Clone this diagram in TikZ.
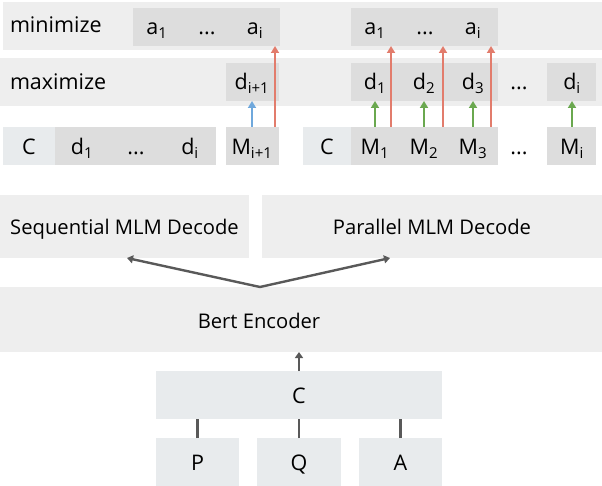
\documentclass[tikz,border=0pt]{standalone}
\usepackage{fontspec}
\setmainfont{Open Sans}
\usetikzlibrary{arrows.meta}
\definecolor{band}{RGB}{238,238,238}
\definecolor{inner}{RGB}{221,221,221}
\definecolor{cbox}{RGB}{232,235,237}
\definecolor{redA}{RGB}{226,124,108}
\definecolor{blueA}{RGB}{111,168,220}
\definecolor{greenA}{RGB}{106,168,79}
\definecolor{grayA}{RGB}{89,89,89}
\newcommand\sbs[1]{\textsubscript{#1}}
\begin{document}
\begin{tikzpicture}[x=1pt,y=-1pt,
  rect/.style={inner sep=0pt, outer sep=0pt, anchor=north west, draw=none},
  tok/.style={inner sep=0pt, outer sep=0pt, anchor=base, font=\fontsize{21.5}{24}\selectfont},
  lbl/.style={inner sep=0pt, outer sep=0pt, anchor=base, font=\fontsize{20.2}{24}\selectfont},
  carrow/.style={line width=2.6pt, -{Triangle[length=7pt,width=8pt]}},
  garrow/.style={line width=2.4pt, draw=grayA, -{Triangle[length=6pt,width=8pt]}},
  gline/.style={line width=2.4pt, draw=grayA}]
\useasboundingbox (0,0) rectangle (602,486);
% bands
\node[rect, fill=band, minimum width=599, minimum height=48] (minband) at (3,2) {};
\node[rect, fill=band, minimum width=602, minimum height=48] (maxband) at (0,58) {};
\node[tok, anchor=base west] (minlbl) at (10,33) {minimize};
\node[tok, anchor=base west] (maxlbl) at (10,90) {maximize};
% inner boxes
\node[rect, fill=inner, minimum width=147, minimum height=38] (aL) at (133,8) {};
\node[rect, fill=inner, minimum width=147, minimum height=38] (aR) at (351,8) {};
\node[rect, fill=inner, minimum width=53, minimum height=38] (dip) at (226,63) {};
\node[rect, fill=inner, minimum width=147, minimum height=38] (dR) at (351,63) {};
\node[rect, fill=inner, minimum width=49, minimum height=38] (diR) at (547,63) {};
\node[rect, fill=cbox, minimum width=52, minimum height=38] (cL) at (3,127) {};
\node[rect, fill=inner, minimum width=161, minimum height=38] (dL) at (55,127) {};
\node[rect, fill=inner, minimum width=53, minimum height=38] (mip) at (226,127) {};
\node[rect, fill=cbox, minimum width=48, minimum height=38] (cR) at (303,127) {};
\node[rect, fill=inner, minimum width=147, minimum height=38] (mR) at (351,127) {};
\node[rect, fill=inner, minimum width=49, minimum height=38] (miR) at (547,127) {};
% tokens: a row
\node[tok] (aL1) at (157,35) {a\sbs{1}};
\node[tok] (aLd) at (207,35) {...};
\node[tok] (aLi) at (255,35) {a\sbs{i}};
\node[tok] (aR1) at (375,35) {a\sbs{1}};
\node[tok] (aRd) at (425,35) {...};
\node[tok] (aRi) at (473,35) {a\sbs{i}};
% d row
\node[tok] (dipt) at (252,90) {d\sbs{i+1}};
\node[tok] (d1) at (375,90) {d\sbs{1}};
\node[tok] (d2) at (424,90) {d\sbs{2}};
\node[tok] (d3) at (473,90) {d\sbs{3}};
\node[tok] (ddots) at (519,90) {...};
\node[tok] (di) at (572,90) {d\sbs{i}};
% M row
\node[tok] (cLt) at (29,155) {C};
\node[tok] (dL1) at (82,155) {d\sbs{1}};
\node[tok] (dLd) at (136,155) {...};
\node[tok] (dLi) at (190,155) {d\sbs{i}};
\node[tok] (mipt) at (252,155) {M\sbs{i+1}};
\node[tok] (cRt) at (327,155) {C};
\node[tok] (M1) at (375,155) {M\sbs{1}};
\node[tok] (M2) at (424,155) {M\sbs{2}};
\node[tok] (M3) at (473,155) {M\sbs{3}};
\node[tok] (Mdots) at (519,155) {...};
\node[tok] (Mi) at (572,155) {M\sbs{i}};
% coloured arrows
\draw[carrow, draw=blueA, fill=blueA] (mipt |- mip.north) -- (mipt |- dip.south);
\draw[carrow, draw=redA, fill=redA] ([xshift=-4pt]mip.north east) -- ([xshift=-4pt]mip.north east |- aL.south);
\foreach \m in {M1,M2,M3,Mi}
  \draw[carrow, draw=greenA, fill=greenA] (\m |- mR.north) -- (\m |- dR.south);
\foreach \m/\s in {M1/16,M2/19,M3/18}
  \draw[carrow, draw=redA, fill=redA] ([xshift=\s pt]\m |- mR.north) -- ([xshift=\s pt]\m |- aR.south);
% middle
\node[rect, fill=band, minimum width=249, minimum height=63] (seq) at (0,195) {};
\node[rect, fill=band, minimum width=340, minimum height=63] (par) at (262,195) {};
\node[lbl] (seqt) at (seq.center |- 0,235) {Sequential MLM Decode};
\node[lbl] (part) at (par.center |- 0,235) {Parallel MLM Decode};
\node[rect, fill=band, minimum width=602, minimum height=65] (bert) at (0,287) {};
\node[lbl] (bertt) at (259,328) {Bert Encoder};
\draw[garrow, fill=grayA] ([xshift=-41pt]bert.north) -- ([xshift=2.5pt]seq.south);
\draw[garrow, fill=grayA] ([xshift=-41pt]bert.north) -- ([xshift=-42pt]par.south);
% bottom
\node[rect, fill=cbox, minimum width=286, minimum height=48] (cC) at (156,371) {};
\node[tok] (cCt) at (cC.center |- 0,403) {C};
\node[rect, fill=cbox, minimum width=83, minimum height=48] (P) at (156,438) {};
\node[rect, fill=cbox, minimum width=84, minimum height=48] (Q) at (257,438) {};
\node[rect, fill=cbox, minimum width=83, minimum height=48] (A) at (359,438) {};
\node[tok] (Pt) at (P.center |- 0,470) {P};
\node[tok] (Qt) at (Q.center |- 0,470) {Q};
\node[tok] (At) at (A.center |- 0,470) {A};
\draw[garrow, fill=grayA] (cC.north) -- (cC.north |- bert.south);
\draw[gline] (P.north) -- (P.north |- cC.south);
\draw[gline] (Q.north) -- (Q.north |- cC.south);
\draw[gline] (A.north) -- (A.north |- cC.south);
\end{tikzpicture}
\end{document}
